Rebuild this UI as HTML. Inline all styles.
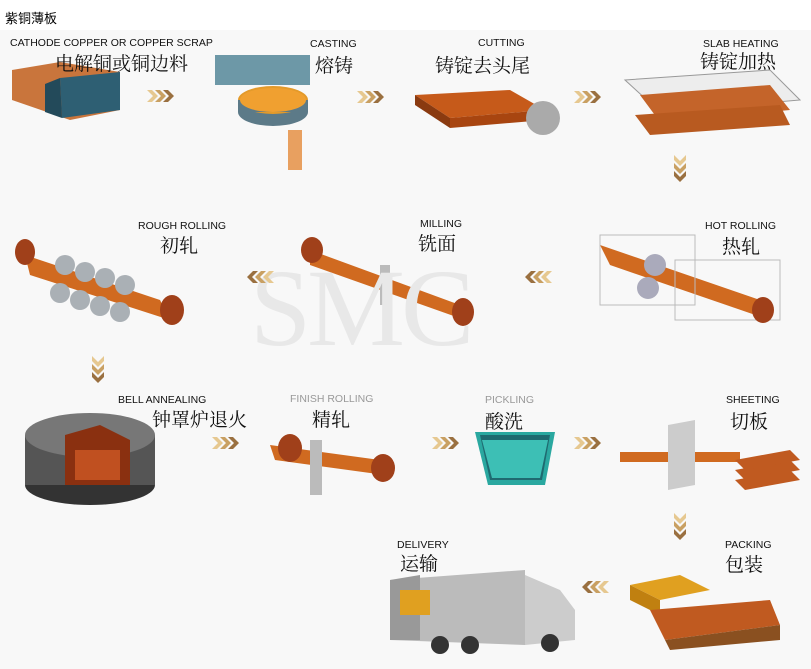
<!DOCTYPE html>
<html><head><meta charset="utf-8"><style>
body{margin:0;width:811px;height:669px;background:#fff;position:relative;overflow:hidden;font-family:"Liberation Sans","Noto Sans CJK SC",sans-serif}
.a{position:absolute}
.en{position:absolute;font-size:10.5px;color:#111;white-space:nowrap}
.zh{position:absolute;font-size:19px;color:#111;white-space:nowrap;font-family:"Noto Serif CJK SC","Noto Sans CJK SC",serif}
.g{color:#999}
</style></head><body>
<div class="a" style="left:5px;top:8px;font-size:13px;font-family:'Noto Sans CJK SC',sans-serif">紫铜薄板</div>
<div class="a" style="left:0;top:30px;width:811px;height:639px;background:#f8f8f8"></div>
<svg class="a" style="left:0;top:0" width="811" height="669">
<defs>
<g id="cr">
<polygon points="0,0 5,0 11,6 5,12 0,12 6,6" fill="#e6c890"/>
<polygon points="8,0 13,0 19,6 13,12 8,12 14,6" fill="#c9a062"/>
<polygon points="16,0 21,0 27,6 21,12 16,12 22,6" fill="#9a7040"/>
</g>
<g id="cl" transform="translate(27,0) scale(-1,1)"><use href="#cr"/></g>
</defs>
<!-- row1 -->
<polygon points="12,70 60,62 120,72 120,110 70,120 12,100" fill="#c9753c"/>
<polygon points="60,78 120,72 120,110 62,118" fill="#2e5f73"/>
<polygon points="45,84 60,78 62,118 45,112" fill="#234a5a"/>
<rect x="215" y="55" width="95" height="30" fill="#4a7f92" opacity=".8"/>
<ellipse cx="273" cy="112" rx="35" ry="14" fill="#5c7a88"/>
<ellipse cx="273" cy="100" rx="35" ry="14" fill="#e39a2a"/>
<rect x="238" y="100" width="70" height="12" fill="#5c7a88"/>
<ellipse cx="273" cy="100" rx="33" ry="12" fill="#f0a030"/>
<rect x="288" y="130" width="14" height="40" fill="#e8a060"/>
<polygon points="415,95 510,90 545,110 450,118" fill="#c65a1a"/>
<polygon points="415,95 450,118 450,128 415,105" fill="#8a3a10"/>
<polygon points="450,118 545,110 545,120 450,128" fill="#a84510"/>
<circle cx="543" cy="118" r="17" fill="#aaa"/>
<polygon points="625,80 770,70 800,100 660,112" fill="#ddd" stroke="#999" fill-opacity=".4"/>
<polygon points="640,95 770,85 790,110 660,122" fill="#c4642a"/>
<polygon points="635,115 780,105 790,125 650,135" fill="#b85a20"/>
<!-- row2 -->
<polygon points="25,255 160,300 170,320 30,275" fill="#d06a20"/>
<ellipse cx="25" cy="252" rx="10" ry="13" fill="#a0401a"/>
<ellipse cx="172" cy="310" rx="12" ry="15" fill="#a0401a"/>
<g fill="#aab0b5"><circle cx="65" cy="265" r="10"/><circle cx="85" cy="272" r="10"/><circle cx="105" cy="278" r="10"/><circle cx="125" cy="285" r="10"/><circle cx="60" cy="293" r="10"/><circle cx="80" cy="300" r="10"/><circle cx="100" cy="306" r="10"/><circle cx="120" cy="312" r="10"/></g>
<polygon points="310,250 460,305 465,320 310,265" fill="#d06a20"/>
<ellipse cx="312" cy="250" rx="11" ry="13" fill="#a0401a"/>
<ellipse cx="463" cy="312" rx="11" ry="14" fill="#a0401a"/>
<rect x="380" y="265" width="10" height="40" fill="#bbb"/>
<polygon points="600,245 760,300 770,320 610,265" fill="#d06a20"/>
<rect x="600" y="235" width="95" height="70" fill="none" stroke="#bbb"/>
<rect x="675" y="260" width="105" height="60" fill="none" stroke="#bbb"/>
<circle cx="655" cy="265" r="11" fill="#aab"/><circle cx="648" cy="288" r="11" fill="#aab"/>
<ellipse cx="763" cy="310" rx="11" ry="13" fill="#a0401a"/>
<text x="250" y="345" font-size="110" font-family="Liberation Serif" fill="#e8e8e8" letter-spacing="-4">SMC</text>
<!-- row3 -->
<ellipse cx="90" cy="485" rx="65" ry="20" fill="#333"/>
<rect x="25" y="435" width="130" height="50" fill="#555"/>
<ellipse cx="90" cy="435" rx="65" ry="22" fill="#777"/>
<polygon points="65,435 100,425 130,440 130,485 65,485" fill="#8a3010"/>
<rect x="75" y="450" width="45" height="30" fill="#c05020"/>
<polygon points="270,445 380,460 385,475 275,460" fill="#d06a20"/>
<ellipse cx="290" cy="448" rx="12" ry="14" fill="#a0401a"/>
<ellipse cx="383" cy="468" rx="12" ry="14" fill="#a0401a"/>
<rect x="310" y="440" width="12" height="55" fill="#bbb"/>
<polygon points="475,432 555,432 545,485 488,485" fill="#2aa8a0"/>
<polygon points="480,435 550,435 542,480 490,480" fill="#1f6a70"/>
<polygon points="482,440 548,440 540,478 492,478" fill="#3dbfb5"/>
<rect x="620" y="452" width="120" height="10" fill="#d06a20"/>
<polygon points="668,425 695,420 695,485 668,490" fill="#ccc"/>
<g fill="#c05a20"><polygon points="735,470 790,460 800,470 745,480"/><polygon points="735,480 790,470 800,480 745,490"/><polygon points="735,460 790,450 800,460 745,470"/></g>
<!-- row4 -->
<polygon points="390,580 525,570 525,645 390,640" fill="#bbb"/>
<polygon points="390,580 420,575 420,640 390,640" fill="#999"/>
<rect x="400" y="590" width="30" height="25" fill="#e0a020"/>
<polygon points="525,575 560,590 575,610 575,640 525,645" fill="#ccc"/>
<circle cx="440" cy="645" r="9" fill="#333"/><circle cx="470" cy="645" r="9" fill="#333"/><circle cx="550" cy="643" r="9" fill="#333"/>
<polygon points="630,585 680,575 710,590 660,600" fill="#e0a020"/>
<polygon points="630,585 660,600 660,615 630,600" fill="#c08010"/>
<polygon points="650,610 770,600 780,625 665,640" fill="#c05a20"/>
<polygon points="665,640 780,625 780,640 670,650" fill="#8a5020"/>
<!-- chevrons -->
<use href="#cr" x="147" y="90"/>
<use href="#cr" x="357" y="91"/>
<use href="#cr" x="574" y="91"/>
<use href="#cr" x="212" y="437"/>
<use href="#cr" x="432" y="437"/>
<use href="#cr" x="574" y="437"/>
<g transform="translate(247,271)"><use href="#cl"/></g>
<g transform="translate(525,271)"><use href="#cl"/></g>
<g transform="translate(582,581)"><use href="#cl"/></g>
<g transform="translate(686,155) rotate(90)"><use href="#cr"/></g>
<g transform="translate(104,356) rotate(90)"><use href="#cr"/></g>
<g transform="translate(686,513) rotate(90)"><use href="#cr"/></g>
</svg>
<div class="en" style="left:10px;top:37px">CATHODE COPPER OR COPPER SCRAP</div>
<div class="zh" style="left:55px;top:49px">电解铜或铜边料</div>
<div class="en" style="left:310px;top:38px">CASTING</div>
<div class="zh" style="left:315px;top:51px">熔铸</div>
<div class="en" style="left:478px;top:37px">CUTTING</div>
<div class="zh" style="left:435px;top:51px">铸锭去头尾</div>
<div class="en" style="left:703px;top:38px">SLAB HEATING</div>
<div class="zh" style="left:700px;top:47px">铸锭加热</div>
<div class="en" style="left:138px;top:220px">ROUGH ROLLING</div>
<div class="zh" style="left:160px;top:231px">初轧</div>
<div class="en" style="left:420px;top:218px">MILLING</div>
<div class="zh" style="left:418px;top:229px">铣面</div>
<div class="en" style="left:705px;top:220px">HOT ROLLING</div>
<div class="zh" style="left:722px;top:232px">热轧</div>
<div class="en" style="left:118px;top:394px">BELL ANNEALING</div>
<div class="zh" style="left:152px;top:405px">钟罩炉退火</div>
<div class="en g" style="left:290px;top:393px">FINISH ROLLING</div>
<div class="zh" style="left:312px;top:405px">精轧</div>
<div class="en g" style="left:485px;top:394px">PICKLING</div>
<div class="zh" style="left:485px;top:407px">酸洗</div>
<div class="en" style="left:726px;top:394px">SHEETING</div>
<div class="zh" style="left:730px;top:407px">切板</div>
<div class="en" style="left:397px;top:539px">DELIVERY</div>
<div class="zh" style="left:400px;top:549px">运输</div>
<div class="en" style="left:725px;top:539px">PACKING</div>
<div class="zh" style="left:725px;top:550px">包装</div>
</body></html>
